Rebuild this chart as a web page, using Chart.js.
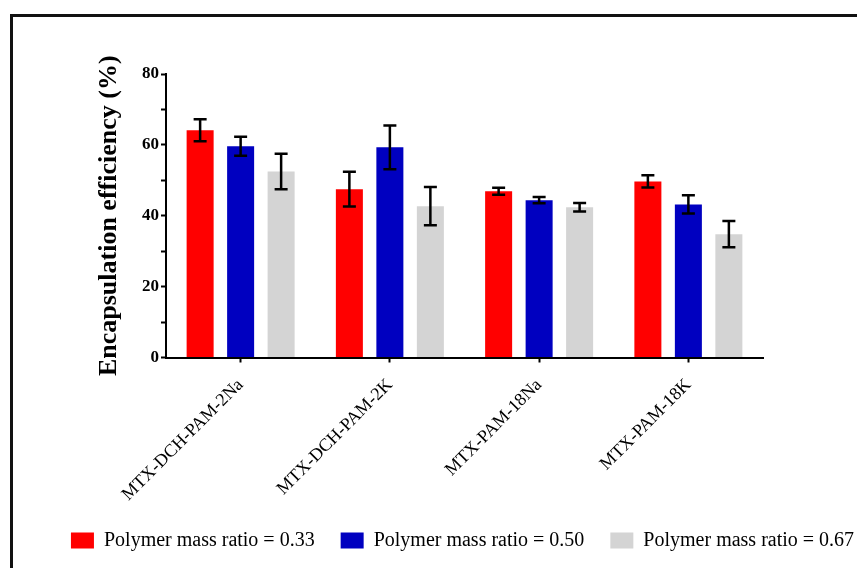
<!DOCTYPE html>
<html>
<head>
<meta charset="utf-8">
<script src="https://cdn.jsdelivr.net/npm/chart.js"></script>
<style>
  html, body { margin: 0; padding: 0; background: #fff; }
  #wrap { position: relative; width: 857px; height: 568px; overflow: hidden; }
  #frame { position: absolute; left: 10px; top: 14px; width: 900px; height: 600px; border-left: 3px solid #111; border-top: 3px solid #111; }
  canvas { position: absolute; left: 0; top: 0; }
</style>
</head>
<body>
<div id="wrap">
  <div id="frame"></div>
  <canvas id="effChart" width="857" height="568"></canvas>
</div>
<script>
const categories = ['MTX-DCH-PAM-2Na', 'MTX-DCH-PAM-2K', 'MTX-PAM-18Na', 'MTX-PAM-18K'];
const seriesNames = ['Polymer mass ratio = 0.33', 'Polymer mass ratio = 0.50', 'Polymer mass ratio = 0.67'];
const ratio033 = [64.1, 47.5, 46.9, 49.7];
const ratio050 = [59.6, 59.3, 44.4, 43.2];
const ratio067 = [52.5, 42.7, 42.4, 34.8];
const err033 = [3.1, 4.9, 1.0, 1.7];
const err050 = [2.7, 6.2, 0.9, 2.6];
const err067 = [5.0, 5.4, 1.2, 3.7];
const yLabels = [0, 20, 40, 60, 80];

Chart.defaults.font.family = "'Liberation Serif', 'Times New Roman', serif";
Chart.defaults.color = '#000';

// mean +/- SD whiskers, drawn on top of the bars
const errorBars = {
  id: 'errorBars',
  afterDatasetsDraw(chart) {
    const ctx = chart.ctx;
    const y = chart.scales.y;
    ctx.save();
    ctx.strokeStyle = '#000';
    ctx.lineWidth = 2.5;
    chart.data.datasets.forEach((ds, i) => {
      chart.getDatasetMeta(i).data.forEach((bar, j) => {
        const v = ds.data[j], e = ds.errors[j];
        const top = y.getPixelForValue(v + e);
        const bot = y.getPixelForValue(v - e);
        const x = bar.x, half = 6.5;
        ctx.beginPath();
        ctx.moveTo(x, top); ctx.lineTo(x, bot);
        ctx.moveTo(x - half, top); ctx.lineTo(x + half, top);
        ctx.moveTo(x - half, bot); ctx.lineTo(x + half, bot);
        ctx.stroke();
      });
    });
    ctx.restore();
  }
};

// legend row sits a bit right of centre in the original
const legendShift = {
  id: 'legendShift',
  afterLayout(chart) {
    chart.legend.left += 34;
    chart.legend.right += 34;
  }
};

const ctx = document.getElementById('effChart').getContext('2d');

new Chart(ctx, {
  type: 'bar',
  data: {
    labels: categories,
    datasets: [
      { label: seriesNames[0], data: ratio033, errors: err033, backgroundColor: '#ff0000' },
      { label: seriesNames[1], data: ratio050, errors: err050, backgroundColor: '#0000c0' },
      { label: seriesNames[2], data: ratio067, errors: err067, backgroundColor: '#d4d4d4' }
    ]
  },
  options: {
    responsive: false,
    animation: false,
    categoryPercentage: 0.814,
    barPercentage: 0.667,
    layout: { padding: { left: 0, right: 0, top: 74, bottom: 7.5 } },
    scales: {
      x: {
        grid: { drawOnChartArea: false, offset: false, tickLength: 5, tickWidth: 2, tickColor: '#000' },
        border: { color: '#000', width: 2 },
        ticks: { minRotation: 45, maxRotation: 45, padding: 12, font: { size: 18 } },
        afterFit(s) { s.height = 147; }
      },
      y: {
        min: 0,
        max: 80,
        grid: { drawOnChartArea: false, tickLength: 5, tickWidth: 2, tickColor: '#000' },
        border: { color: '#000', width: 2 },
        ticks: {
          stepSize: 10,
          padding: 2,
          font: { size: 17, weight: 'bold' },
          callback: v => yLabels.includes(v) ? v : ''
        },
        title: {
          display: true,
          text: 'Encapsulation efficiency (%)',
          font: { size: 26, weight: 'bold' },
          padding: { top: 94, bottom: 0 }
        },
        afterFit(s) { s.width = 166; }
      },
      yRight: {
        type: 'linear',
        position: 'right',
        grid: { display: false },
        border: { display: false },
        ticks: { display: false },
        afterFit(s) { s.width = 94; }
      }
    },
    plugins: {
      legend: {
        position: 'bottom',
        labels: {
          boxWidth: 23,
          boxHeight: 16,
          padding: 26,
          font: { size: 20 }
        }
      },
      tooltip: { enabled: false }
    }
  },
  plugins: [errorBars, legendShift]
});
</script>
</body>
</html>
